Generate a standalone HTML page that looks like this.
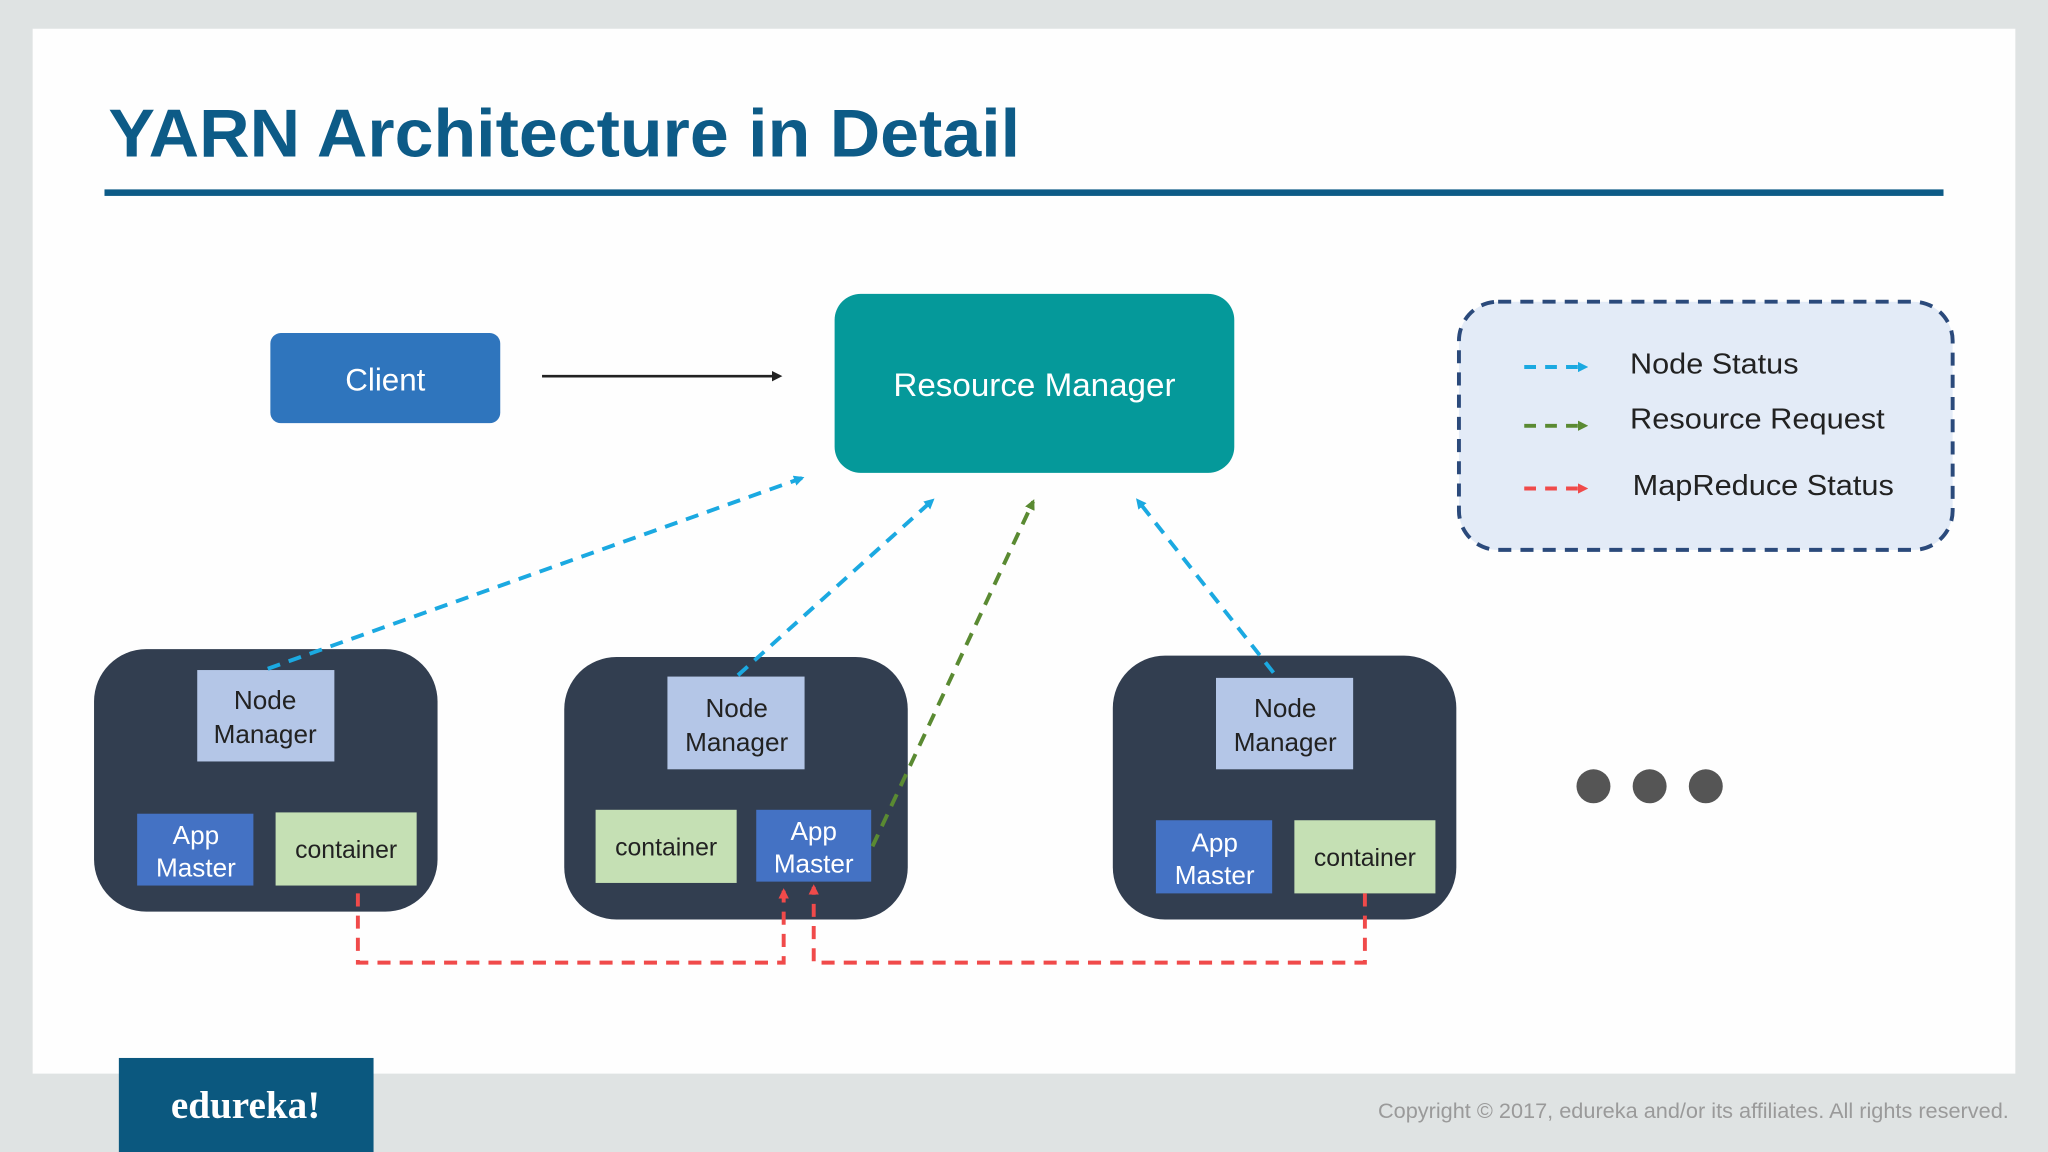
<!DOCTYPE html>
<html><head><meta charset="utf-8"><style>
html,body{margin:0;padding:0;width:2048px;height:1152px;overflow:hidden;background:#dfe3e3}
svg{display:block}
</style></head><body>
<svg width="2048" height="1152" viewBox="0 0 1568 882" xmlns="http://www.w3.org/2000/svg" font-family="Liberation Sans, sans-serif">
<defs>
<marker id="ab" markerWidth="8" markerHeight="8" refX="6" refY="4" orient="auto" markerUnits="userSpaceOnUse"><path d="M0,0 L8,4 L0,8 z" fill="#1ba9e1"/></marker>
<marker id="ag" markerWidth="8" markerHeight="8" refX="6" refY="4" orient="auto" markerUnits="userSpaceOnUse"><path d="M0,0 L8,4 L0,8 z" fill="#5a8a32"/></marker>
<marker id="ar" markerWidth="8" markerHeight="8" refX="6" refY="4" orient="auto" markerUnits="userSpaceOnUse"><path d="M0,0 L8,4 L0,8 z" fill="#f04a4a"/></marker>
<marker id="ak" markerWidth="8" markerHeight="8" refX="6" refY="4" orient="auto" markerUnits="userSpaceOnUse"><path d="M0,0 L8,4 L0,8 z" fill="#222"/></marker>
</defs>
<rect x="0" y="0" width="1568" height="882" fill="#dfe3e3"/>
<rect x="25" y="22" width="1518" height="800" fill="#fefefe"/>
<text x="83" y="120" font-size="52" font-weight="bold" fill="#0d5b87" textLength="698" lengthAdjust="spacingAndGlyphs">YARN Architecture in Detail</text>
<rect x="80" y="145" width="1408" height="5" fill="#0d5b87"/>

<rect x="207" y="255" width="176" height="69" rx="8" fill="#2f75bd"/>
<text x="295" y="299" font-size="24" fill="#fff" text-anchor="middle">Client</text>
<line x1="415" y1="288" x2="597" y2="288" stroke="#222" stroke-width="2" marker-end="url(#ak)"/>

<rect x="639" y="225" width="306" height="137" rx="20" fill="#05999a"/>
<text x="792" y="303" font-size="25" fill="#fff" text-anchor="middle" textLength="216" lengthAdjust="spacingAndGlyphs">Resource Manager</text>

<rect x="1117" y="231" width="378" height="190" rx="30" fill="#e3ebf7" stroke="#2b4a7b" stroke-width="3" stroke-dasharray="10 7"/>
<line x1="1167" y1="281" x2="1214" y2="281" stroke="#1ba9e1" stroke-width="3" stroke-dasharray="9 7" marker-end="url(#ab)"/>
<text x="1248" y="286" font-size="22" fill="#222" textLength="129" lengthAdjust="spacingAndGlyphs">Node Status</text>
<line x1="1167" y1="326" x2="1214" y2="326" stroke="#5a8a32" stroke-width="3" stroke-dasharray="9 7" marker-end="url(#ag)"/>
<text x="1248" y="328" font-size="22" fill="#222" textLength="195" lengthAdjust="spacingAndGlyphs">Resource Request</text>
<line x1="1167" y1="374" x2="1214" y2="374" stroke="#f04a4a" stroke-width="3" stroke-dasharray="9 7" marker-end="url(#ar)"/>
<text x="1250" y="379" font-size="22" fill="#222" textLength="200" lengthAdjust="spacingAndGlyphs">MapReduce Status</text>

<!-- node 1 -->
<rect x="72" y="497" width="263" height="201" rx="40" fill="#323e50"/>
<rect x="151" y="513" width="105" height="70" fill="#b4c6e7"/>
<text x="203" y="543" font-size="20" fill="#222" text-anchor="middle">Node</text>
<text x="203" y="569" font-size="20" fill="#222" text-anchor="middle">Manager</text>
<rect x="105" y="623" width="89" height="55" fill="#4472c4"/>
<text x="150" y="646" font-size="20" fill="#fff" text-anchor="middle">App</text>
<text x="150" y="671" font-size="20" fill="#fff" text-anchor="middle">Master</text>
<rect x="211" y="622" width="108" height="56" fill="#c5e0b4"/>
<text x="265" y="657" font-size="19" fill="#222" text-anchor="middle">container</text>

<!-- node 2 -->
<rect x="432" y="503" width="263" height="201" rx="40" fill="#323e50"/>
<rect x="511" y="518" width="105" height="71" fill="#b4c6e7"/>
<text x="564" y="549" font-size="20" fill="#222" text-anchor="middle">Node</text>
<text x="564" y="575" font-size="20" fill="#222" text-anchor="middle">Manager</text>
<rect x="456" y="620" width="108" height="56" fill="#c5e0b4"/>
<text x="510" y="655" font-size="19" fill="#222" text-anchor="middle">container</text>
<rect x="579" y="620" width="88" height="55" fill="#4472c4"/>
<text x="623" y="643" font-size="20" fill="#fff" text-anchor="middle">App</text>
<text x="623" y="668" font-size="20" fill="#fff" text-anchor="middle">Master</text>

<!-- node 3 -->
<rect x="852" y="502" width="263" height="202" rx="40" fill="#323e50"/>
<rect x="931" y="519" width="105" height="70" fill="#b4c6e7"/>
<text x="984" y="549" font-size="20" fill="#222" text-anchor="middle">Node</text>
<text x="984" y="575" font-size="20" fill="#222" text-anchor="middle">Manager</text>
<rect x="885" y="628" width="89" height="56" fill="#4472c4"/>
<text x="930" y="652" font-size="20" fill="#fff" text-anchor="middle">App</text>
<text x="930" y="677" font-size="20" fill="#fff" text-anchor="middle">Master</text>
<rect x="991" y="628" width="108" height="56" fill="#c5e0b4"/>
<text x="1045" y="663" font-size="19" fill="#222" text-anchor="middle">container</text>

<circle cx="1220" cy="602" r="13" fill="#555"/>
<circle cx="1263" cy="602" r="13" fill="#555"/>
<circle cx="1306" cy="602" r="13" fill="#555"/>

<g fill="none" stroke-width="3" stroke-dasharray="10 7">
<line x1="205" y1="512" x2="614" y2="366" stroke="#1ba9e1" marker-end="url(#ab)"/>
<line x1="565" y1="517" x2="714" y2="383" stroke="#1ba9e1" marker-end="url(#ab)"/>
<line x1="975" y1="515" x2="871" y2="383" stroke="#1ba9e1" marker-end="url(#ab)"/>
<line x1="668" y1="648" x2="791" y2="384" stroke="#5a8a32" marker-end="url(#ag)"/>
<polyline points="274,684 274,737 600,737 600,682" stroke="#f04a4a" marker-end="url(#ar)"/>
<polyline points="1045,684 1045,737 623,737 623,679" stroke="#f04a4a" marker-end="url(#ar)"/>
</g>

<rect x="91" y="810" width="195" height="72" fill="#0b587f"/>
<text x="188" y="856" font-size="30" font-weight="bold" fill="#fff" text-anchor="middle" font-family="Liberation Serif, serif">edureka!</text>
<text x="1538" y="856" font-size="16" fill="#9a9a9a" text-anchor="end" textLength="483" lengthAdjust="spacingAndGlyphs">Copyright © 2017, edureka and/or its affiliates. All rights reserved.</text>
</svg>
</body></html>
